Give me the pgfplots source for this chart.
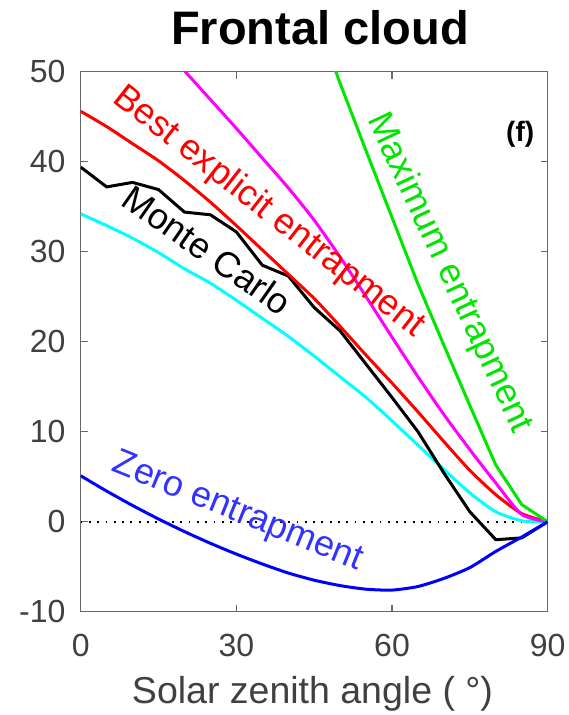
\documentclass[border=0pt]{standalone}
\usepackage{fontspec}
\setmainfont{Liberation Sans}
\usepackage{pgfplots}
\pgfplotsset{compat=1.18}
\definecolor{axgray}{RGB}{105,105,105}
\definecolor{tickgray}{RGB}{64,64,64}
\definecolor{mcyan}{RGB}{0,255,255}
\definecolor{mgreen}{RGB}{0,230,0}
\definecolor{mmag}{RGB}{255,0,255}
\definecolor{mred}{RGB}{255,0,0}
\definecolor{mblue}{RGB}{0,0,255}
\definecolor{tblue}{RGB}{51,51,255}
\begin{document}
\begin{tikzpicture}
\begin{axis}[
  scale only axis, width=467pt, height=540pt,
  xmin=0, xmax=90, ymin=-10, ymax=50,
  xtick={0,30,60,90}, ytick={-10,0,10,20,30,40,50},
  tick align=inside, major tick length=7pt,
  axis line style={axgray, line width=1.5pt},
  every tick/.style={axgray, line width=1.5pt},
  tick label style={font=\fontsize{32}{38}\selectfont, text=tickgray, inner sep=0pt},
  xticklabel style={anchor=base, yshift=-45pt},
  yticklabel style={anchor=east, xshift=-15pt},
  /pgf/number format/assume math mode=true,
]
\addplot[black, line width=1.8pt, dash pattern=on 1.8pt off 6.5pt] coordinates {(0,0) (90,0)};
% cyan
\addplot[mcyan, line width=3pt, smooth, tension=0.4] coordinates {
(0,34.2)(5,32.9)(10,31.5)(15,29.9)(20,28.1)(25,26.5)(30,24.6)(35,22.6)(40,20.6)(45,18.4)
(50,16.1)(55,13.8)(60,11.2)(65,8.5)(70,5.8)(75,3.2)(80,1.1)(85,0.1)(90,0)};
% Monte Carlo
\addplot[black, line width=3pt] coordinates {
(0,39.4)(5,37.2)(10,37.7)(15,36.9)(20,34.4)(25,34.1)(30,32.2)(35,28.5)(40,27.3)(45,23.8)
(50,21.2)(55,17.5)(60,13.8)(65,10.0)(70,5.4)(75,1.1)(80,-2.0)(85,-1.8)(90,0)};
% Best explicit
\addplot[mred, line width=3pt, smooth, tension=0.4] coordinates {
(0,45.6)(5,43.9)(10,42.0)(15,40.1)(20,37.9)(25,35.5)(30,32.9)(35,30.2)(40,27.5)(45,24.8)
(50,21.7)(55,18.5)(60,15.4)(65,12.2)(70,8.9)(75,5.7)(80,3.0)(85,0.9)(90,0)};
% magenta
\addplot[mmag, line width=3pt, smooth, tension=0.4] coordinates {
(10,56.4)(15,53.3)(20,50.1)(25,46.9)(30,43.7)(35,40.4)(40,37.1)(45,33.5)
(50,29.4)(55,25.0)(60,20.5)(65,16.1)(70,11.9)(75,8.0)(80,4.3)(85,0.8)(90,0)};
% Maximum
\addplot[mgreen, line width=3pt] coordinates {
(45,56.5)(50,48.7)(55,41.2)(60,33.8)(65,26.4)(70,19.6)(75,12.9)(80,6.3)(85,1.9)(90,0)};
% Zero
\addplot[mblue, line width=3pt, smooth, tension=0.4] coordinates {
(0,5.1)(5,3.4)(10,1.8)(15,0.3)(20,-1.1)(25,-2.4)(30,-3.6)(35,-4.7)(40,-5.7)(45,-6.5)
(50,-7.1)(55,-7.5)(60,-7.6)(65,-7.2)(70,-6.3)(75,-5.1)(80,-3.3)(85,-1.7)(90,0)};
\node[rotate=-38, text=mred, font=\fontsize{36}{40}\selectfont] at (axis cs:36.2,34.4) {Best explicit entrapment};
\node[rotate=-35, text=black, font=\fontsize{36}{40}\selectfont] at (axis cs:24.4,30.2) {Monte Carlo};
\node[rotate=-22, text=tblue, font=\fontsize{36}{40}\selectfont] at (axis cs:30.2,1.0) {Zero entrapment};
\node[rotate=-65, text=mgreen, font=\fontsize{36}{40}\selectfont] at (axis cs:71.0,27.6) {Maximum entrapment};
\node[font=\bfseries\fontsize{28}{32}\selectfont] at (axis cs:84.7,43.0) {(f)};
\end{axis}
\node[anchor=base, font=\bfseries\fontsize{47}{52}\selectfont] at (239.3pt,566.7pt) {Frontal cloud};
\node[anchor=base, text=tickgray, font=\fontsize{37.5}{42}\selectfont] at (231.8pt,-91.6pt) {Solar zenith angle ( °)};
\pgfresetboundingbox
\path[use as bounding box] (-80.7pt,-103.3pt) rectangle (488.3pt,611.7pt);
\end{tikzpicture}
\end{document}
